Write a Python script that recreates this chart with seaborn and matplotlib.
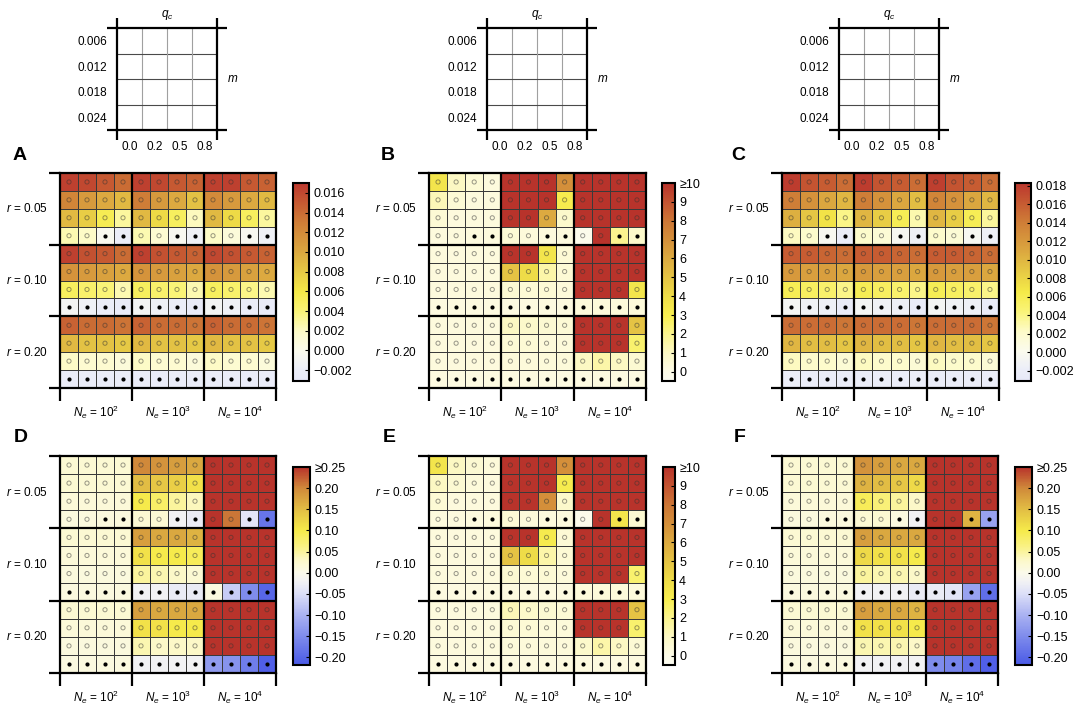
import numpy as np
import pandas as pd
import matplotlib
matplotlib.use("Agg")
import matplotlib.pyplot as plt
import seaborn as sns
from matplotlib.colors import LinearSegmentedColormap

plt.rcParams['font.family'] = ['Liberation Sans', 'DejaVu Sans']
plt.rcParams['mathtext.fontset'] = 'custom'
plt.rcParams['mathtext.it'] = 'Liberation Sans:italic'
plt.rcParams['mathtext.rm'] = 'Liberation Sans'

# ---------------- labels ----------------
r_labels = ["$r$ = 0.05", "$r$ = 0.10", "$r$ = 0.20"]
ne_labels = ["$N_e$ = $10^2$", "$N_e$ = $10^3$", "$N_e$ = $10^4$"]
qc_labels = ["0.0", "0.2", "0.5", "0.8"]
m_labels = ["0.006", "0.012", "0.018", "0.024"]
panel_letters = ["A", "B", "C", "D", "E", "F"]

# rows: r=0.05 (m=.006,.012,.018,.024), r=0.10 (...), r=0.20 (...)
# cols: Ne=1e2 (qc 0,.2,.5,.8), Ne=1e3 (...), Ne=1e4 (...)
A_vals = [
    [0.0165, 0.0160, 0.0150, 0.0140, 0.0165, 0.0160, 0.0150, 0.0145, 0.0165, 0.0165, 0.0150, 0.0145],
    [0.0125, 0.0110, 0.0100, 0.0090, 0.0130, 0.0110, 0.0100, 0.0085, 0.0120, 0.0110, 0.0100, 0.0090],
    [0.0090, 0.0078, 0.0055, 0.0030, 0.0090, 0.0070, 0.0050, 0.0022, 0.0090, 0.0070, 0.0050, 0.0030],
    [0.0025, 0.0020, -0.0003, -0.0020, 0.0025, 0.0015, -0.0005, -0.0015, 0.0020, 0.0010, -0.0005, -0.0015],
    [0.0165, 0.0155, 0.0150, 0.0140, 0.0165, 0.0155, 0.0150, 0.0145, 0.0160, 0.0155, 0.0150, 0.0145],
    [0.0115, 0.0110, 0.0105, 0.0100, 0.0115, 0.0110, 0.0105, 0.0100, 0.0115, 0.0110, 0.0105, 0.0100],
    [0.0050, 0.0045, 0.0040, 0.0025, 0.0050, 0.0045, 0.0040, 0.0025, 0.0050, 0.0045, 0.0035, 0.0025],
    [-0.0010, -0.0015, -0.0020, -0.0025, -0.0010, -0.0015, -0.0020, -0.0025, -0.0010, -0.0015, -0.0020, -0.0025],
    [0.0145, 0.0140, 0.0140, 0.0135, 0.0145, 0.0140, 0.0140, 0.0135, 0.0145, 0.0140, 0.0140, 0.0135],
    [0.0090, 0.0085, 0.0085, 0.0080, 0.0090, 0.0085, 0.0085, 0.0080, 0.0090, 0.0085, 0.0085, 0.0080],
    [0.0020, 0.0015, 0.0015, 0.0010, 0.0020, 0.0015, 0.0015, 0.0010, 0.0020, 0.0015, 0.0015, 0.0010],
    [-0.0022, -0.0022, -0.0022, -0.0022, -0.0022, -0.0022, -0.0022, -0.0022, -0.0022, -0.0022, -0.0022, -0.0022],
]

B_vals = [
    [3.5, 1.0, 0.5, 0.3, 10, 10, 10, 7.0, 10, 10, 10, 10],
    [1.2, 0.5, 0.3, 0.3, 10, 10, 10, 3.2, 10, 10, 10, 10],
    [0.5, 0.3, 0.3, 0.3, 10, 10, 6.0, 0.8, 10, 10, 10, 10],
    [0.3, 0.3, 0.3, 0.3, 0.5, 0.4, 0.3, 0.3, -0.2, 10, 2.0, 0.8],
    [0.3, 0.3, 0.3, 0.3, 10, 10, 3.5, 0.5, 10, 10, 10, 10],
    [0.3, 0.3, 0.3, 0.3, 5.0, 4.0, 1.5, 0.5, 10, 10, 10, 10],
    [0.3, 0.3, 0.3, 0.3, 0.6, 0.5, 0.5, 0.4, 10, 10, 10, 3.5],
    [0.2, 0.2, 0.2, 0.2, 0.2, 0.2, 0.2, 0.2, 0.4, 0.4, 0.4, 0.4],
    [0.3, 0.3, 0.3, 0.3, 1.0, 0.8, 0.6, 0.5, 10, 10, 10, 5.0],
    [0.3, 0.3, 0.3, 0.3, 0.5, 0.5, 0.4, 0.4, 10, 10, 10, 2.5],
    [0.3, 0.3, 0.3, 0.3, 0.4, 0.4, 0.4, 0.4, 1.0, 1.5, 1.0, 0.6],
    [0.2, 0.2, 0.2, 0.2, 0.2, 0.2, 0.2, 0.2, 0.2, 0.2, 0.2, 0.2],
]

C_vals = [
    [0.0180, 0.0165, 0.0160, 0.0150, 0.0180, 0.0165, 0.0160, 0.0150, 0.0178, 0.0165, 0.0160, 0.0150],
    [0.0140, 0.0125, 0.0110, 0.0100, 0.0140, 0.0125, 0.0110, 0.0095, 0.0135, 0.0125, 0.0110, 0.0100],
    [0.0105, 0.0090, 0.0070, 0.0040, 0.0100, 0.0085, 0.0060, 0.0030, 0.0100, 0.0085, 0.0060, 0.0035],
    [0.0025, 0.0020, -0.0003, -0.0020, 0.0020, 0.0015, -0.0005, -0.0015, 0.0020, 0.0015, -0.0005, -0.0015],
    [0.0160, 0.0160, 0.0155, 0.0150, 0.0160, 0.0160, 0.0155, 0.0150, 0.0160, 0.0160, 0.0155, 0.0150],
    [0.0120, 0.0115, 0.0115, 0.0110, 0.0120, 0.0115, 0.0115, 0.0110, 0.0120, 0.0115, 0.0115, 0.0110],
    [0.0060, 0.0055, 0.0050, 0.0040, 0.0060, 0.0055, 0.0050, 0.0040, 0.0060, 0.0055, 0.0050, 0.0040],
    [-0.0008, -0.0012, -0.0015, -0.0022, -0.0008, -0.0012, -0.0015, -0.0022, -0.0008, -0.0012, -0.0015, -0.0022],
    [0.0150, 0.0150, 0.0150, 0.0145, 0.0150, 0.0150, 0.0150, 0.0145, 0.0150, 0.0150, 0.0150, 0.0145],
    [0.0100, 0.0095, 0.0095, 0.0090, 0.0100, 0.0095, 0.0095, 0.0090, 0.0100, 0.0095, 0.0095, 0.0090],
    [0.0025, 0.0020, 0.0020, 0.0015, 0.0025, 0.0020, 0.0020, 0.0015, 0.0025, 0.0020, 0.0020, 0.0015],
    [-0.0020, -0.0020, -0.0020, -0.0020, -0.0020, -0.0020, -0.0020, -0.0020, -0.0020, -0.0020, -0.0020, -0.0020],
]

D_vals = [
    [0.020, 0.020, 0.020, 0.020, 0.20, 0.19, 0.18, 0.17, 0.25, 0.25, 0.25, 0.25],
    [0.020, 0.020, 0.020, 0.020, 0.15, 0.14, 0.13, 0.11, 0.25, 0.25, 0.25, 0.25],
    [0.015, 0.015, 0.015, 0.015, 0.10, 0.08, 0.05, 0.035, 0.25, 0.25, 0.25, 0.25],
    [0.012, 0.012, 0.012, 0.012, 0.02, 0.02, -0.02, -0.03, 0.25, 0.21, -0.04, -0.18],
    [0.020, 0.020, 0.020, 0.020, 0.18, 0.17, 0.17, 0.16, 0.25, 0.25, 0.25, 0.25],
    [0.015, 0.015, 0.015, 0.015, 0.11, 0.10, 0.10, 0.09, 0.25, 0.25, 0.25, 0.25],
    [0.012, 0.012, 0.012, 0.012, 0.05, 0.04, 0.03, 0.02, 0.25, 0.25, 0.25, 0.25],
    [0.010, 0.010, 0.010, 0.010, -0.02, -0.02, -0.03, -0.03, 0.01, -0.07, -0.15, -0.20],
    [0.020, 0.020, 0.020, 0.020, 0.18, 0.17, 0.17, 0.17, 0.25, 0.25, 0.25, 0.25],
    [0.015, 0.015, 0.015, 0.015, 0.11, 0.11, 0.10, 0.10, 0.25, 0.25, 0.25, 0.25],
    [0.012, 0.012, 0.012, 0.012, 0.04, 0.03, 0.03, 0.03, 0.25, 0.25, 0.25, 0.25],
    [0.010, 0.010, 0.010, 0.010, -0.02, -0.02, -0.02, -0.02, -0.13, -0.14, -0.17, -0.21],
]

E_vals = [
    [3.5, 1.0, 0.6, 0.4, 10, 10, 10, 7.0, 10, 10, 10, 10],
    [1.0, 0.6, 0.4, 0.3, 10, 10, 10, 3.2, 10, 10, 10, 10],
    [0.5, 0.3, 0.3, 0.3, 10, 10, 7.0, 0.8, 10, 10, 10, 10],
    [0.3, 0.3, 0.3, 0.3, 0.5, 0.4, 0.3, 0.3, -0.2, 10, 3.5, 0.6],
    [0.3, 0.3, 0.3, 0.3, 10, 10, 3.2, 0.5, 10, 10, 10, 10],
    [0.3, 0.3, 0.3, 0.3, 5.0, 4.0, 1.5, 0.5, 10, 10, 10, 10],
    [0.3, 0.3, 0.3, 0.3, 0.6, 0.5, 0.5, 0.4, 10, 10, 10, 2.5],
    [0.2, 0.2, 0.2, 0.2, 0.2, 0.2, 0.2, 0.2, 0.4, 0.4, 0.4, 0.4],
    [0.3, 0.3, 0.3, 0.3, 1.2, 0.8, 0.6, 0.5, 10, 10, 10, 5.0],
    [0.3, 0.3, 0.3, 0.3, 0.5, 0.5, 0.4, 0.4, 10, 10, 10, 2.5],
    [0.3, 0.3, 0.3, 0.3, 0.4, 0.4, 0.4, 0.4, 0.8, 1.5, 1.0, 0.5],
    [0.2, 0.2, 0.2, 0.2, 0.2, 0.2, 0.2, 0.2, 0.2, 0.2, 0.2, 0.2],
]

F_vals = [
    [0.020, 0.020, 0.020, 0.020, 0.19, 0.18, 0.17, 0.17, 0.25, 0.25, 0.25, 0.25],
    [0.020, 0.020, 0.020, 0.020, 0.16, 0.15, 0.14, 0.12, 0.25, 0.25, 0.25, 0.25],
    [0.015, 0.015, 0.015, 0.015, 0.09, 0.07, 0.05, 0.03, 0.25, 0.25, 0.25, 0.25],
    [0.012, 0.012, 0.012, 0.012, 0.02, 0.02, 0.01, -0.02, 0.25, 0.25, 0.16, -0.12],
    [0.020, 0.020, 0.020, 0.020, 0.18, 0.17, 0.17, 0.17, 0.25, 0.25, 0.25, 0.25],
    [0.015, 0.015, 0.015, 0.015, 0.12, 0.11, 0.11, 0.10, 0.25, 0.25, 0.25, 0.25],
    [0.012, 0.012, 0.012, 0.012, 0.05, 0.04, 0.04, 0.03, 0.25, 0.25, 0.25, 0.25],
    [0.010, 0.010, 0.010, 0.010, -0.02, -0.02, -0.02, -0.03, -0.03, -0.04, -0.12, -0.19],
    [0.020, 0.020, 0.020, 0.020, 0.18, 0.17, 0.17, 0.16, 0.25, 0.25, 0.25, 0.25],
    [0.015, 0.015, 0.015, 0.015, 0.11, 0.11, 0.11, 0.10, 0.25, 0.25, 0.25, 0.25],
    [0.012, 0.012, 0.012, 0.012, 0.04, 0.04, 0.04, 0.03, 0.25, 0.25, 0.25, 0.25],
    [0.010, 0.010, 0.010, 0.010, -0.02, -0.02, -0.02, -0.02, -0.15, -0.16, -0.19, -0.21],
]

# 1 = filled black dot, 0 = open circle
dot_filled = [
    [0, 0, 0, 0, 0, 0, 0, 0, 0, 0, 0, 0],
    [0, 0, 0, 0, 0, 0, 0, 0, 0, 0, 0, 0],
    [0, 0, 0, 0, 0, 0, 0, 0, 0, 0, 0, 0],
    [0, 0, 1, 1, 0, 0, 1, 1, 0, 0, 1, 1],
    [0, 0, 0, 0, 0, 0, 0, 0, 0, 0, 0, 0],
    [0, 0, 0, 0, 0, 0, 0, 0, 0, 0, 0, 0],
    [0, 0, 0, 0, 0, 0, 0, 0, 0, 0, 0, 0],
    [1, 1, 1, 1, 1, 1, 1, 1, 1, 1, 1, 1],
    [0, 0, 0, 0, 0, 0, 0, 0, 0, 0, 0, 0],
    [0, 0, 0, 0, 0, 0, 0, 0, 0, 0, 0, 0],
    [0, 0, 0, 0, 0, 0, 0, 0, 0, 0, 0, 0],
    [1, 1, 1, 1, 1, 1, 1, 1, 1, 1, 1, 1],
]

# colorbar ticks
ac_ticksA = [-0.002, 0.000, 0.002, 0.004, 0.006, 0.008, 0.010, 0.012, 0.014, 0.016]
ac_ticksC = [-0.002, 0.000, 0.002, 0.004, 0.006, 0.008, 0.010, 0.012, 0.014, 0.016, 0.018]
be_ticks = [0, 1, 2, 3, 4, 5, 6, 7, 8, 9, 10]
be_ticklabels = ["0", "1", "2", "3", "4", "5", "6", "7", "8", "9", "≥10"]
df_ticks = [-0.20, -0.15, -0.10, -0.05, 0.00, 0.05, 0.10, 0.15, 0.20, 0.25]
df_ticklabels = ["−0.20", "−0.15", "−0.10", "−0.05", "0.00", "0.05", "0.10", "0.15", "0.20", "≥0.25"]

# ---------------- colormaps ----------------
cmap_ac = LinearSegmentedColormap.from_list("ac", [
    (0.00, "#e6e8f8"), (0.06, "#eceef8"), (0.15, "#fbfbee"), (0.25, "#fdfbc8"),
    (0.35, "#faf478"), (0.45, "#f5ea48"), (0.57, "#e4c444"), (0.68, "#d9a03e"),
    (0.80, "#cf7e37"), (0.90, "#c65a32"), (1.00, "#bc382e")])
cmap_be = LinearSegmentedColormap.from_list("be", [
    (0.00, "#fbfbf2"), (0.05, "#fdfbe6"), (0.14, "#fcf8c4"), (0.24, "#fbf48c"),
    (0.33, "#f8ef50"), (0.43, "#eedc48"), (0.52, "#e5c444"), (0.62, "#dcaa40"),
    (0.71, "#d4903a"), (0.81, "#cc7636"), (0.90, "#c45632"), (1.00, "#b8332b")])
cmap_df = LinearSegmentedColormap.from_list("df", [
    (0.000, "#4a5ae6"), (0.145, "#7f8cec"), (0.252, "#aab2f2"), (0.359, "#dcdff8"),
    (0.423, "#f2f2f4"), (0.466, "#fbfaea"), (0.530, "#fcf8c8"), (0.594, "#faf288"),
    (0.680, "#f6ea4a"), (0.786, "#e2be44"), (0.893, "#d08a3a"), (1.000, "#b8332b")])

W, H = 1077, 708
fig = plt.figure(figsize=(W / 100, H / 100), dpi=100)


def px_axes(x0, y0, x1, y1):
    return fig.add_axes([x0 / W, 1 - y1 / H, (x1 - x0) / W, (y1 - y0) / H])


def draw_panel(ax, cax, vals, cmap, vmin, vmax, ticks, ticklabels):
    df = pd.DataFrame(vals)
    sns.heatmap(df, ax=ax, cbar_ax=cax, cmap=cmap, vmin=vmin, vmax=vmax,
                linewidths=0.6, linecolor="#3a3a3a", cbar_kws={"ticks": ticks})
    filled = np.array(dot_filled)
    yy, xx = np.nonzero(filled == 0)
    ax.scatter(xx + 0.5, yy + 0.5, s=9, facecolors="none",
               edgecolors=(0.2, 0.2, 0.2, 0.5), linewidths=0.7, zorder=3)
    yy, xx = np.nonzero(filled == 1)
    ax.scatter(xx + 0.5, yy + 0.5, s=9, color="black", linewidths=0, zorder=3)
    for k in [4, 8]:
        ax.axhline(k, color="black", lw=1.6, zorder=4)
        ax.axvline(k, color="black", lw=1.6, zorder=4)
    for sp in ax.spines.values():
        sp.set_visible(True)
        sp.set_linewidth(1.6)
        sp.set_color("black")
    ax.set_xlabel("")
    ax.set_ylabel("")
    ax.set_xticks([0, 4, 8, 12])
    ax.set_xticklabels([])
    ax.set_xticks([2, 6, 10], minor=True)
    ax.set_xticklabels(ne_labels, minor=True)
    ax.set_yticks([0, 4, 8, 12])
    ax.set_yticklabels([])
    ax.set_yticks([2, 6, 10], minor=True)
    ax.set_yticklabels(r_labels, minor=True, rotation=0, va="center")
    ax.tick_params(axis="x", which="major", length=9, width=1.6, bottom=True, top=False, direction="out")
    ax.tick_params(axis="y", which="major", length=8, width=1.6, left=True, right=False, direction="out")
    ax.tick_params(axis="x", which="minor", length=0, pad=11, labelsize=8.5)
    ax.tick_params(axis="y", which="minor", length=0, pad=9, labelsize=8.5)
    cb = ax.collections[0].colorbar
    cb.set_ticks(ticks)
    cb.set_ticklabels(ticklabels)
    cb.outline.set_linewidth(1.5)
    cb.outline.set_edgecolor("black")
    cax.tick_params(direction="in", length=3, width=0.8, labelsize=9, pad=3, color="black")


def draw_key(lax):
    lax.set_xlim(0, 4)
    lax.set_ylim(4, 0)
    for k in [1, 2, 3]:
        lax.axvline(k, color="#a0a0a0", lw=0.8)
        lax.axhline(k, color="#4a4a4a", lw=0.8)
    for sp in lax.spines.values():
        sp.set_linewidth(1.6)
        sp.set_color("black")
    lax.set_xticks([0, 4])
    lax.set_xticklabels([])
    lax.set_yticks([0, 4])
    lax.set_yticklabels([])
    lax.set_xticks([0.5, 1.5, 2.5, 3.5], minor=True)
    lax.set_xticklabels(qc_labels, minor=True)
    lax.set_yticks([0.5, 1.5, 2.5, 3.5], minor=True)
    lax.set_yticklabels(m_labels, minor=True)
    lax.tick_params(axis="x", which="major", length=7, width=1.6, top=True, bottom=True, direction="out")
    lax.tick_params(axis="y", which="major", length=7, width=1.6, left=True, right=True, direction="out")
    lax.tick_params(axis="x", which="minor", length=0, pad=8, labelsize=8.5)
    lax.tick_params(axis="y", which="minor", length=0, pad=7, labelsize=8.5)
    lax.text(0.5, 1.13, "$q_c$", transform=lax.transAxes, ha="center", va="center", fontsize=8.5)
    lax.text(1.16, 0.5, "$m$", transform=lax.transAxes, ha="center", va="center", fontsize=8.5)


# keys at top
for x0 in [117, 487, 839]:
    draw_key(px_axes(x0, 28, x0 + 100, 130))

panels = [
    (A_vals, cmap_ac, -0.0031, 0.0170, ac_ticksA, [f"{t:.3f}".replace("-", "−") for t in ac_ticksA],
     (60, 173, 276, 388), (293, 183, 309, 381), (20, 155)),
    (B_vals, cmap_be, -0.5, 10, be_ticks, be_ticklabels,
     (429, 173, 646, 388), (662, 183, 675, 381), (388, 155)),
    (C_vals, cmap_ac, -0.0031, 0.0183, ac_ticksC, [f"{t:.3f}".replace("-", "−") for t in ac_ticksC],
     (782, 173, 999, 388), (1015, 183, 1031, 381), (738, 155)),
    (D_vals, cmap_df, -0.218, 0.25, df_ticks, df_ticklabels,
     (60, 456, 276, 673), (293, 467, 310, 665), (21, 438)),
    (E_vals, cmap_be, -0.5, 10, be_ticks, be_ticklabels,
     (429, 456, 646, 673), (663, 467, 675, 665), (389, 438)),
    (F_vals, cmap_df, -0.218, 0.25, df_ticks, df_ticklabels,
     (782, 456, 998, 673), (1015, 467, 1032, 665), (740, 438)),
]

for letter, (vals, cmap, vmin, vmax, ticks, tlabels, axb, cb, lp) in zip(panel_letters, panels):
    ax = px_axes(*axb)
    cax = px_axes(*cb)
    draw_panel(ax, cax, vals, cmap, vmin, vmax, ticks, tlabels)
    fig.text(lp[0] / W, 1 - lp[1] / H, letter, ha="center", va="center",
             fontsize=14, fontweight="bold")

fig.savefig("out.png", dpi=100)
